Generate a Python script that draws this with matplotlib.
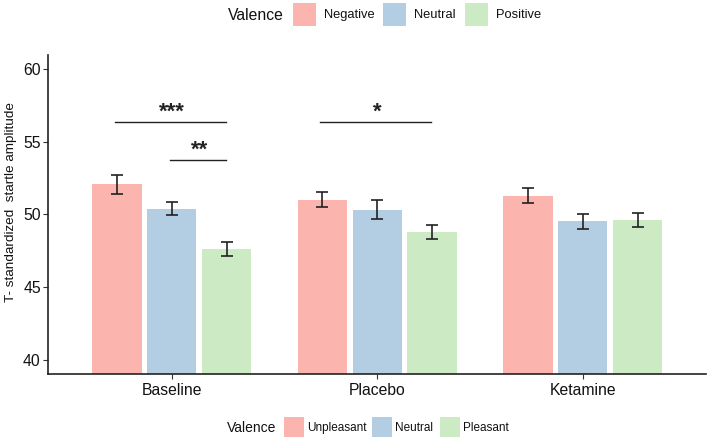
import matplotlib
matplotlib.use("Agg")
import matplotlib.pyplot as plt
from matplotlib.patches import Rectangle
import numpy as np

plt.rcParams['font.family'] = ['Liberation Sans', 'DejaVu Sans']

conditions = ["Baseline", "Placebo", "Ketamine"]
valence_top = ["Negative", "Neutral", "Positive"]
valence_bottom = ["Unpleasant", "Neutral", "Pleasant"]
colors = ["#FBB4AE", "#B3CDE3", "#CCEBC5"]

means_negative = [52.07, 51.03, 51.29]
means_neutral = [50.39, 50.32, 49.54]
means_positive = [47.63, 48.81, 49.63]
se_negative = [0.65, 0.53, 0.52]
se_neutral = [0.45, 0.65, 0.51]
se_positive = [0.50, 0.50, 0.50]

yticks = [40, 45, 50, 55, 60]

# significance annotations: (condition index, from series, to series, y, label)
sig_cond = [0, 0, 1]
sig_from = [0, 1, 0]
sig_to = [2, 2, 2]
sig_y = [56.37, 53.75, 56.37]
sig_label = ["***", "**", "*"]

W, H = 708, 444
fig = plt.figure(figsize=(W / 100, H / 100), dpi=100)
ax = fig.add_axes([48.5 / W, (H - 374) / H, (706 - 48.5) / W, (374 - 55) / H])

x = np.arange(1, len(conditions) + 1)
dodge = 0.8 / 3
bw = 0.24
series = [means_negative, means_neutral, means_positive]
ses = [se_negative, se_neutral, se_positive]
for i, (m, s) in enumerate(zip(series, ses)):
    xs = x + (i - 1) * dodge
    ax.bar(xs, m, width=bw, color=colors[i], bottom=0, zorder=2)
    ax.errorbar(xs, m, yerr=s, fmt='none', ecolor='#222222', elinewidth=1.2,
                capsize=4.5, capthick=1.2, zorder=3)

for c, f, t, y, lab in zip(sig_cond, sig_from, sig_to, sig_y, sig_label):
    x0 = x[c] + (f - 1) * dodge
    x1 = x[c] + (t - 1) * dodge
    ax.plot([x0 - 0.01, x1 - 0.005], [y, y], color='#222222', lw=1.0, zorder=3)
    ax.text((x0 + x1) / 2, y + 0.28, lab, ha='center', va='baseline', fontsize=16,
            fontweight='bold', color='#222222')

ax.set_xlim(0.4, 3.6)
ax.set_ylim(39, 61)
ax.set_yticks(yticks)
ax.set_xticks(x)
ax.set_xticklabels(conditions)
ax.tick_params(axis='both', labelsize=11.3, color='#333333', length=3.5,
               labelcolor='#111111')
ax.tick_params(axis='y', pad=2)
ax.tick_params(axis='x', pad=3)
for sp in ['top', 'right']:
    ax.spines[sp].set_visible(False)
for sp in ['left', 'bottom']:
    ax.spines[sp].set_color('#222222')
    ax.spines[sp].set_linewidth(1.2)
ax.set_ylabel("T- standardized  startle amplitude", fontsize=9.7,
              color='#111111')
ax.yaxis.set_label_coords(-(48.5 - 17) / (706 - 48.5), (374 - 202) / (374 - 55))


def fx(px):
    return px / W


def fy(py):
    return 1 - py / H


# top legend
fig.text(fx(228), fy(15), "Valence", fontsize=11.3, va='center', ha='left', color='#111111')
for px0, lab, col in zip([293, 383, 465], valence_top, colors):
    fig.add_artist(Rectangle((fx(px0), fy(26.5)), 22.5 / W, 23 / H,
                             transform=fig.transFigure, facecolor=col, edgecolor='none'))
    fig.text(fx(px0 + 31), fy(15), lab, fontsize=9.3, va='center', ha='left', color='#111111')

# bottom legend
fig.text(fx(227), fy(427.5), "Valence", fontsize=10, va='center', ha='left', color='#111111')
for px0, lab, col in zip([284, 372, 440], valence_bottom, colors):
    fig.add_artist(Rectangle((fx(px0), fy(437)), 20 / W, 20 / H,
                             transform=fig.transFigure, facecolor=col, edgecolor='none'))
    fig.text(fx(px0 + 23), fy(427.5), lab, fontsize=8.5, va='center', ha='left', color='#111111')

fig.savefig("out.png", dpi=100)
